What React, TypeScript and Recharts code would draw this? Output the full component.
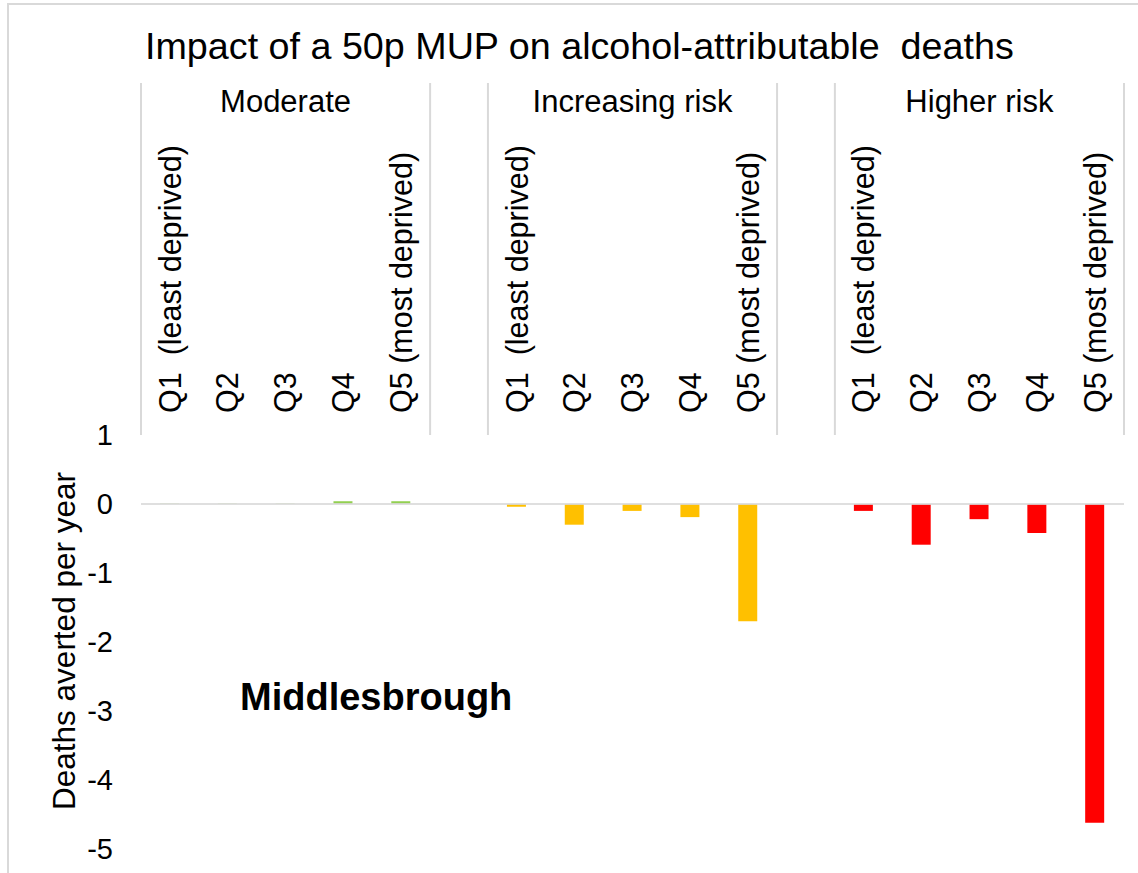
import { BarChart, Bar, XAxis, YAxis, Cell, ReferenceLine } from "recharts";

const groups = ["Moderate", "Increasing risk", "Higher risk"];
const quintiles = ["Q1  (least deprived)", "Q2", "Q3", "Q4", "Q5 (most deprived)"];
const moderate = [0.005, 0.005, 0.005, 0.04, 0.04];
const increasingRisk = [-0.04, -0.3, -0.1, -0.19, -1.7];
const higherRisk = [-0.1, -0.59, -0.22, -0.42, -4.62];
const groupColors = ["#92D050", "#FFC000", "#FF0000"];
const yTicks = [1, 0, -1, -2, -3, -4, -5];

interface Row {
  key: string;
  label: string;
  group: number;
  pos: number; // position inside group, -1 for spacer
  value: number | null;
}

const seriesByGroup = [moderate, increasingRisk, higherRisk];

const rows: Row[] = [];
seriesByGroup.forEach((vals, g) => {
  vals.forEach((v, i) => {
    rows.push({ key: `${g}-${i}`, label: quintiles[i], group: g, pos: i, value: v });
  });
  if (g < seriesByGroup.length - 1) {
    rows.push({ key: `gap-${g}`, label: "", group: g, pos: -1, value: null });
  }
});

const FONT = "'Liberation Sans', Arial, sans-serif";
const GRID = "#d9d9d9";

const CategoryTick = (props: any) => {
  const { x, payload } = props;
  const row = rows[payload.index];
  if (!row) return null;
  const half = payload.offset ?? 0;
  return (
    <g>
      {row.pos === 0 && (
        <line x1={x - half} x2={x - half} y1={83} y2={435} stroke={GRID} strokeWidth={2} />
      )}
      {row.pos === 4 && (
        <line x1={x + half} x2={x + half} y1={83} y2={435} stroke={GRID} strokeWidth={2} />
      )}
      {row.pos === 2 && (
        <text x={x} y={112} textAnchor="middle" fontSize={31} fill="#000">
          {groups[row.group]}
        </text>
      )}
      {row.label && (
        <text
          transform={`translate(${x}, 413) rotate(-90)`}
          dy="0.35em"
          textAnchor="start"
          fontSize={30.5}
          fill="#000"
          style={{ whiteSpace: "pre" }}
        >
          {row.label}
        </text>
      )}
    </g>
  );
};

const App = () => {
  return (
    <div
      style={{
        position: "absolute",
        left: 0,
        top: 0,
        width: 1138,
        height: 873,
        overflow: "hidden",
        background: "#fff",
        fontFamily: FONT,
      }}
    >
      <div
        style={{
          position: "absolute",
          left: 7,
          top: 3,
          width: 1300,
          height: 1000,
          borderLeft: `2px solid ${GRID}`,
          borderTop: `2px solid ${GRID}`,
        }}
      />
      <BarChart
        width={1138}
        height={873}
        data={rows}
        margin={{ top: 0, right: 14, bottom: 24, left: 0 }}
      >
        <XAxis
          dataKey="key"
          orientation="top"
          height={435}
          interval={0}
          axisLine={false}
          tickLine={false}
          tick={<CategoryTick />}
        />
        <YAxis
          type="number"
          domain={[-5, 1]}
          ticks={yTicks}
          width={141}
          axisLine={false}
          tickLine={false}
          tickMargin={22}
          tick={{ fill: "#000", fontSize: 29 }}
        />
        <Bar dataKey="value" barSize={19} isAnimationActive={false}>
          {rows.map((r) => (
            <Cell key={r.key} fill={groupColors[r.group]} />
          ))}
        </Bar>
        <ReferenceLine y={0} stroke={GRID} strokeWidth={2} strokeOpacity={0.85} />
      </BarChart>
      <div
        style={{
          position: "absolute",
          left: 145,
          top: 24,
          fontSize: 37.7,
          lineHeight: "44px",
          whiteSpace: "pre",
          color: "#000",
        }}
      >
        Impact of a 50p MUP on alcohol-attributable  deaths
      </div>
      <div
        style={{
          position: "absolute",
          left: 64,
          top: 641,
          transform: "translate(-50%, -50%) rotate(-90deg)",
          fontSize: 31.5,
          whiteSpace: "nowrap",
          color: "#000",
        }}
      >
        Deaths averted per year
      </div>
      <div
        style={{
          position: "absolute",
          left: 240,
          top: 675,
          fontSize: 38,
          lineHeight: "44px",
          fontWeight: "bold",
          color: "#000",
        }}
      >
        Middlesbrough
      </div>
    </div>
  );
};

export default App;
